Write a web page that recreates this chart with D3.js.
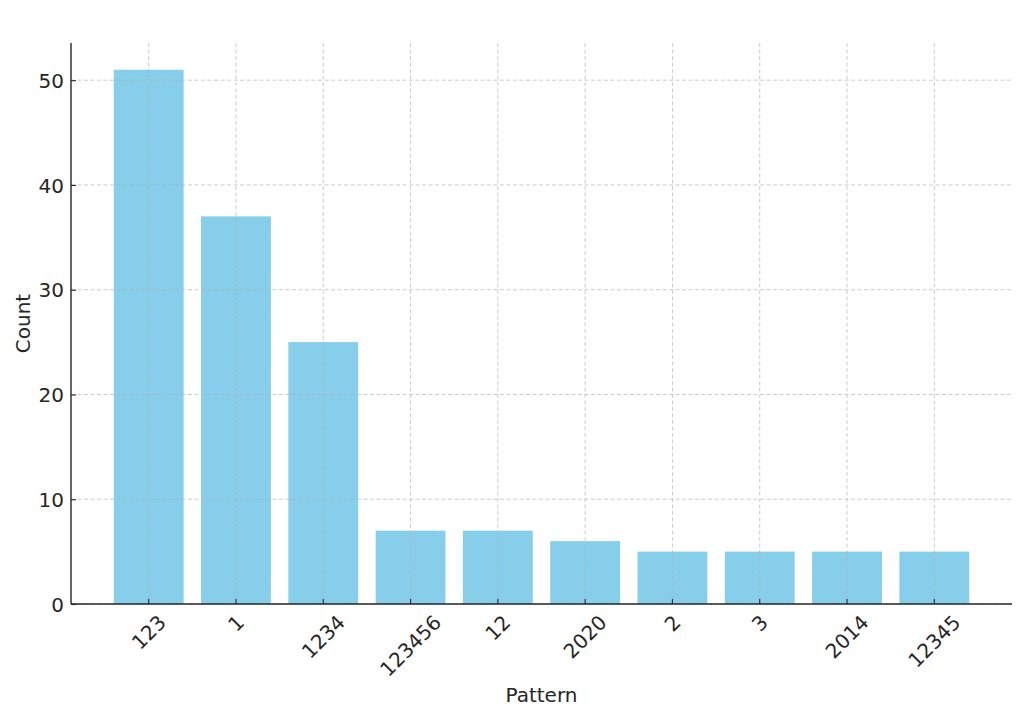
<!DOCTYPE html>
<html><head><meta charset="utf-8">
<script src="https://cdn.jsdelivr.net/npm/d3@7"></script>
<style>body{margin:0;background:#fff}svg{display:block}text{font-family:"DejaVu Sans",sans-serif;fill:#262626}</style>
</head><body>
<svg id="c" width="1024" height="718"></svg>
<script>
const categories = ["123","1","1234","123456","12","2020","2","3","2014","12345"];
const counts = [51,37,25,7,7,6,5,5,5,5];
const yTicks = [0,10,20,30,40,50];

const svg = d3.select("#c");
const L=71,R=1012,T=43,B=604;
const n = categories.length;
const FS = 20;
const x = d3.scaleLinear().domain([-0.89, n-1+0.89]).range([L,R]);
const y = d3.scaleLinear().domain([0, 51*1.05]).range([B,T]);
const bw = x(0.8)-x(0);

svg.append("g").selectAll("rect").data(counts).join("rect")
  .attr("x",(d,i)=>x(i)-bw/2).attr("width",bw)
  .attr("y",d=>y(d)).attr("height",d=>B-y(d))
  .attr("fill","#87CEEB");

// grid
const g = svg.append("g").attr("stroke","#b0b0b0").attr("stroke-opacity",0.7).attr("stroke-dasharray","4,2.5").attr("stroke-width",0.9);
g.selectAll("line.v").data(categories).join("line").attr("x1",(d,i)=>x(i)).attr("x2",(d,i)=>x(i)).attr("y1",T).attr("y2",B);
g.selectAll("line.h").data(yTicks).join("line").attr("x1",L).attr("x2",R).attr("y1",d=>y(d)).attr("y2",d=>y(d));

// y axis (ticks inward)
const ya = svg.append("g").attr("transform",`translate(${L},0)`).call(d3.axisLeft(y).tickValues(yTicks).tickSize(-5).tickPadding(0));
ya.select(".domain").remove();
ya.selectAll("line").attr("stroke","#262626").attr("stroke-width",1.1);
ya.selectAll("text").attr("font-size",FS).attr("font-family","DejaVu Sans").attr("fill","#262626").attr("x",-7).attr("dy","0.36em");

// x axis ticks (inward)
const xa = svg.append("g").attr("transform",`translate(0,${B})`);
xa.selectAll("line").data(categories).join("line").attr("x1",(d,i)=>x(i)).attr("x2",(d,i)=>x(i)).attr("y1",0).attr("y2",-5).attr("stroke","#262626").attr("stroke-width",1.1);
xa.selectAll("text").data(categories).join("text").text(d=>d)
  .attr("font-size",FS).attr("text-anchor","middle").attr("dominant-baseline","central")
  .each(function(d,i){
    const w=this.getComputedTextLength(), h=FS*0.95;
    const half=(w+h)*Math.SQRT1_2/2;
    d3.select(this).attr("transform",`translate(${x(i)},${8+half}) rotate(-45)`);
  });

// spines
svg.append("line").attr("x1",L).attr("x2",L).attr("y1",T).attr("y2",B).attr("stroke","#262626").attr("stroke-width",1.4);
svg.append("line").attr("x1",L).attr("x2",R).attr("y1",B).attr("y2",B).attr("stroke","#262626").attr("stroke-width",1.4);

svg.append("text").attr("x",(L+R)/2).attr("y",702).attr("text-anchor","middle").attr("font-size",FS).text("Pattern");
svg.append("text").attr("transform",`translate(30,${(T+B)/2}) rotate(-90)`).attr("text-anchor","middle").attr("font-size",FS).text("Count");
</script>
</body></html>
